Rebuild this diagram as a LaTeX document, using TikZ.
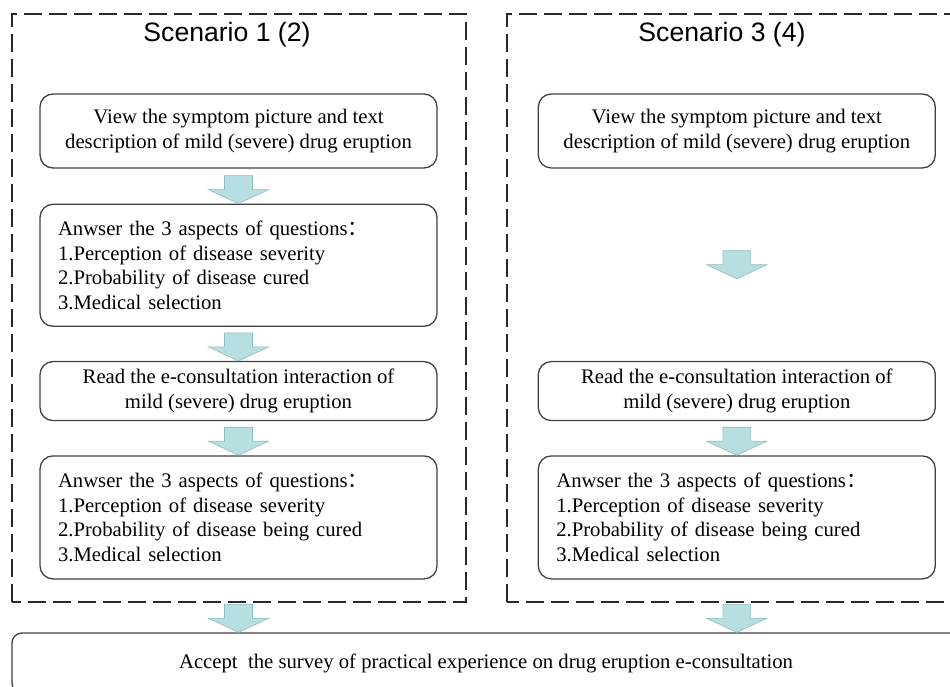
\documentclass[tikz,border=0pt]{standalone}
\usepackage{fontspec}
\setmainfont{Liberation Serif}
\newfontfamily\titlefont{Liberation Sans}
\newfontfamily\cjk{Noto Sans CJK SC}
\usetikzlibrary{positioning,calc}

\definecolor{boxline}{RGB}{64,64,64}
\definecolor{frameline}{RGB}{40,40,40}
\definecolor{arrowfill}{RGB}{183,222,224}
\definecolor{arrowline}{RGB}{140,188,194}

\newcommand{\boxfont}{\fontsize{20.7}{24.5}\selectfont}

\tikzset{
  stepbox/.style={draw=boxline, line width=1.3pt, rounded corners=13pt,
    minimum width=397pt, inner sep=0pt, align=center, font=\boxfont},
  listbox/.style={stepbox, text width=361pt, inner xsep=18pt, align=left},
  scenario/.style={font=\titlefont\fontsize{26.6}{30}\selectfont},
  frame/.style={draw=frameline, line width=2.4pt, dash pattern=on 18pt off 7pt},
  flowarrow/.pic={
    \filldraw[fill=arrowfill, draw=arrowline, line width=0.6pt]
      (-14,28) -- (14,28) -- (14,14) -- (30,14) -- (0,0) -- (-30,14) -- (-14,14) -- cycle;
  }
}

\begin{document}
\begin{tikzpicture}[x=1pt,y=1pt]
\useasboundingbox (0,0) rectangle (950,686);
\clip (0,0) rectangle (950,686);

% scenario frames
\draw[frame] (12,84) rectangle (466,672);
\draw[frame] (507,84) rectangle (975,672);
\node[scenario] (title1) at (227,651) {Scenario 1 (2)};
\node[scenario] (title3) at (722,651) {Scenario 3 (4)};

% left column
\node[stepbox, minimum height=74pt] (A1) at (238.5,555)
  {View the symptom picture and text\\description of mild (severe) drug eruption};
\node[listbox, minimum height=122pt, below=35pt of A1] (B1)
  {Anwser the 3 aspects of questions{\cjk ：}\\1.Perception of disease severity\\2.Probability of disease cured\\3.Medical selection};
\node[stepbox, minimum height=59pt, below=34pt of B1] (C1)
  {Read the e-consultation interaction of\\mild (severe) drug eruption};
\node[listbox, minimum height=123pt, below=34pt of C1] (D1)
  {Anwser the 3 aspects of questions{\cjk ：}\\1.Perception of disease severity\\2.Probability of disease being cured\\3.Medical selection};

% right column
\node[stepbox, minimum height=74pt, right=100pt of A1] (A2)
  {View the symptom picture and text\\description of mild (severe) drug eruption};
\node[stepbox, minimum height=59pt, right=100pt of C1] (C2)
  {Read the e-consultation interaction of\\mild (severe) drug eruption};
\node[listbox, minimum height=123pt, right=100pt of D1] (D2)
  {Anwser the 3 aspects of questions{\cjk ：}\\1.Perception of disease severity\\2.Probability of disease being cured\\3.Medical selection};

% common last step
\node[stepbox, rounded corners=10pt, minimum width=948pt, minimum height=60pt] (survey) at (486,23)
  {Accept~ the survey of practical experience on drug eruption e-consultation};

% arrows
\pic at (B1.north) {flowarrow};
\pic at (C1.north) {flowarrow};
\pic at (D1.north) {flowarrow};
\pic at ($(A2.south)!0.5!(C2.north)+(0,-14)$) {flowarrow};
\pic at (D2.north) {flowarrow};
\pic at (A1 |- survey.north) {flowarrow};
\pic at (A2 |- survey.north) {flowarrow};
\end{tikzpicture}
\end{document}
